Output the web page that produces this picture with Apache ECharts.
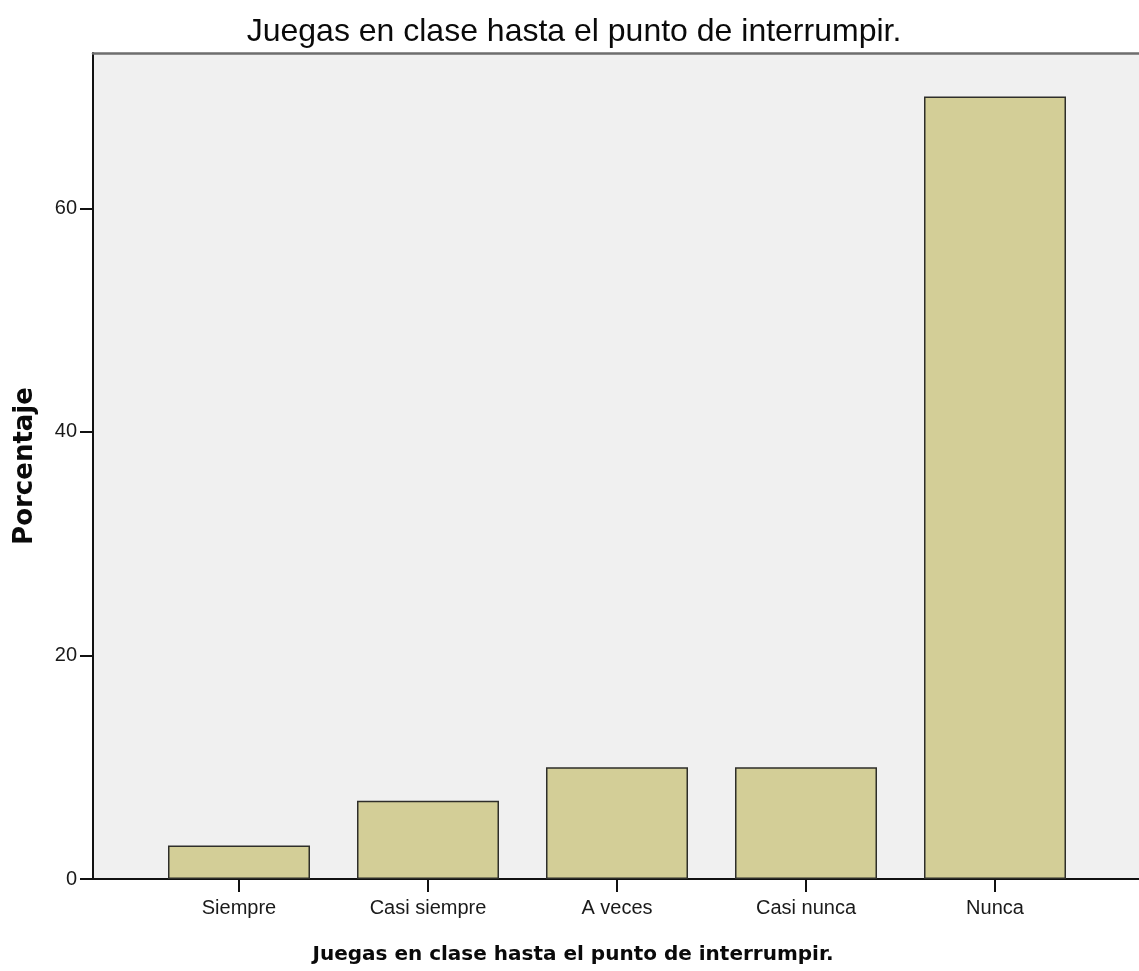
<!DOCTYPE html>
<html>
<head>
<meta charset="utf-8">
<title>Juegas en clase hasta el punto de interrumpir.</title>
<script src="https://cdn.jsdelivr.net/npm/echarts@6/dist/echarts.min.js"></script>
<style>
  html, body { margin: 0; padding: 0; background: #fff; }
  #chart { width: 1139px; height: 971px; }
</style>
</head>
<body>
<div id="chart"></div>
<script>
// datos del gráfico (porcentaje por categoría)
const chartTitle = 'Juegas en clase hasta el punto de interrumpir.';
const categories = ['Siempre', 'Casi siempre', 'A veces', 'Casi nunca', 'Nunca'];
const percentages = [3, 7, 10, 10, 70];
const yMax = 73.9;
const yStep = 20;

const chart = echarts.init(document.getElementById('chart'));

const labelFont = { fontFamily: 'Liberation Sans', fontSize: 20, color: '#1a1a1a' };

chart.setOption({
  animation: false,
  title: [
    {
      text: chartTitle,
      left: 569,
      top: 11,
      textAlign: 'center',
      textStyle: { fontFamily: 'Liberation Sans', fontSize: 32, fontWeight: 'normal', color: '#0a0a0a' }
    },
    {
      // nombre del eje X
      text: chartTitle,
      left: 568,
      top: 940,
      textAlign: 'center',
      textStyle: { fontFamily: 'DejaVu Sans', fontSize: 20, fontWeight: 'bold', color: '#0a0a0a' }
    }
  ],
  grid: [
    // área de fondo + eje Y
    { left: 93, right: 0, top: 53, bottom: 92, show: true, backgroundColor: '#f0f0f0', borderWidth: 0 },
    // área de las barras
    { left: 144.5, right: 49.5, top: 53, bottom: 92 }
  ],
  xAxis: [
    {
      gridIndex: 0,
      type: 'value',
      min: 0,
      max: 1,
      axisLine: { show: true, onZero: false, lineStyle: { color: '#111', width: 2 } },
      axisTick: { show: false },
      axisLabel: { show: false },
      splitLine: { show: false }
    },
    {
      gridIndex: 1,
      type: 'category',
      data: categories,
      axisLine: { show: false },
      axisTick: { show: true, alignWithLabel: true, length: 13, lineStyle: { color: '#111', width: 2 } },
      axisLabel: Object.assign({ margin: 19 }, labelFont),
      splitLine: { show: false }
    },
    {
      // borde superior
      gridIndex: 0,
      type: 'value',
      position: 'top',
      min: 0,
      max: 1,
      axisLine: { show: true, onZero: false, lineStyle: { color: '#6e6e6e', width: 2.5 } },
      axisTick: { show: false },
      axisLabel: { show: false },
      splitLine: { show: false }
    }
  ],
  yAxis: [
    {
      gridIndex: 0,
      type: 'value',
      min: 0,
      max: yMax,
      interval: yStep,
      name: 'Porcentaje',
      nameLocation: 'middle',
      nameGap: 55,
      nameRotate: 90,
      nameTextStyle: { fontFamily: 'DejaVu Sans', fontSize: 26, fontWeight: 'bold', color: '#0a0a0a' },
      axisLine: { show: true, lineStyle: { color: '#111', width: 2 } },
      axisTick: { show: true, length: 13, lineStyle: { color: '#111', width: 2 } },
      axisLabel: Object.assign({ margin: 16, showMaxLabel: false }, labelFont),
      splitLine: { show: false }
    },
    {
      gridIndex: 1,
      type: 'value',
      min: 0,
      max: yMax,
      show: false,
      splitLine: { show: false }
    }
  ],
  series: [
    {
      type: 'bar',
      xAxisIndex: 1,
      yAxisIndex: 1,
      data: percentages,
      barWidth: 142,
      itemStyle: { color: '#d3ce97', borderColor: '#2e2e2a', borderWidth: 1.5 }
    }
  ]
});
</script>
</body>
</html>
